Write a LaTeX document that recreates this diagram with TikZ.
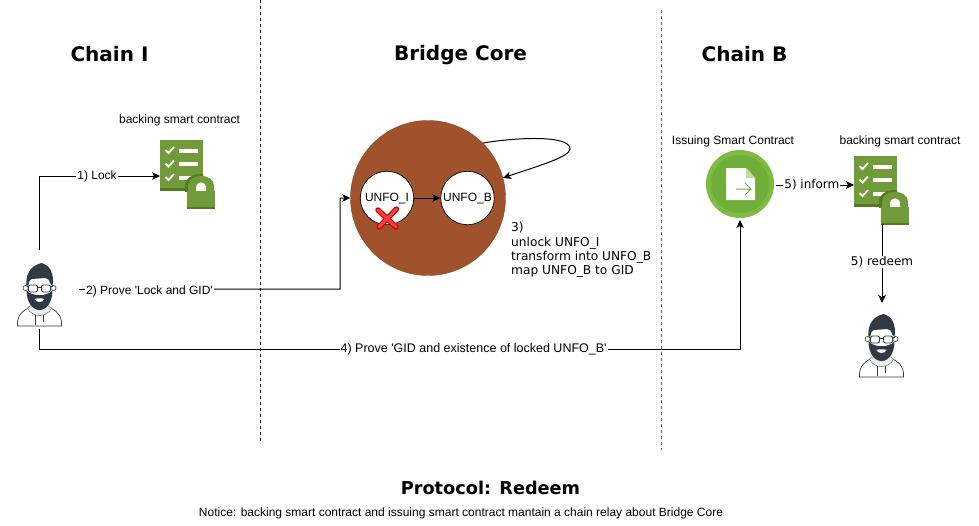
\documentclass[tikz,border=0pt]{standalone}
\usepackage{fontspec}
\setmainfont[Ligatures=TeXOff]{Liberation Sans}
\newfontfamily\dejavu{DejaVu Sans}
\usetikzlibrary{arrows.meta, positioning, calc}
\definecolor{leafgreen}{RGB}{112, 155, 56}
\definecolor{leafdark}{RGB}{82, 122, 36}
\definecolor{issuegreen}{RGB}{127, 186, 66}
\definecolor{issueinner}{RGB}{112, 174, 58}
\definecolor{corebrown}{RGB}{160, 82, 45}
\definecolor{inkgrey}{RGB}{47, 58, 68}
\tikzset{
  pics/contract/.style={code={
    \fill[leafgreen] (0,0) rectangle (43,51);
    \fill[leafdark] (0,47.5) rectangle (43,51);
    \foreach \yy in {0,13.5,27}{
      \draw[white, line width=1.8pt] (5.5,10+\yy) -- (8.5,13+\yy) -- (14,7+\yy);
      \fill[white] (19,8.5+\yy) rectangle (38,12.5+\yy);
    }
    \begin{scope}
      \clip (0,0) rectangle (43,51);
      \fill[leafdark] (25,52) -- (25,46) .. controls (25,30) and (57,30) .. (57,46) -- (57,52) -- cycle;
    \end{scope}
    \fill[leafgreen] (28,52) -- (28,46) .. controls (28,32.5) and (54,32.5) .. (54,46) -- (54,52) -- cycle;
    \fill[white] (36,51) -- (36,48) .. controls (36,40.5) and (46,40.5) .. (46,48) -- (46,51) -- cycle;
    \fill[leafgreen] (27,51) rectangle (55,69);
    \fill[leafdark] (27,66.5) rectangle (55,69);
  }},
  pics/person/.style={code={
    \draw[inkgrey, fill=white, line width=0.7pt] (-22,31) .. controls (-23,20) and (-16,15) .. (-9,12) -- (9,12) .. controls (16,15) and (23,20) .. (22,31) -- cycle;
    \draw[inkgrey!70, fill=black!8, line width=0.5pt] (-12,13) .. controls (-8,23) and (8,23) .. (12,13) .. controls (8,8) and (-8,8) .. (-12,13) -- cycle;
    \draw[inkgrey, line width=0.5pt] (-4,20) -- (-4,30) (4,20) -- (4,27);
    \draw[inkgrey, fill=white, line width=0.6pt] (-14,-7) circle[radius=2.5] (14,-7) circle[radius=2.5];
    \fill[white] (0,-6) ellipse[x radius=12, y radius=15];
    \fill[inkgrey] (-13,-9) .. controls (-14,-20) and (-10,-29) .. (2,-32) .. controls (10,-30) and (15,-22) .. (13,-9) -- (11,-11) .. controls (10,-15) and (8,-17) .. (6,-17) -- (-8,-16) .. controls (-10,-15) and (-11,-13) .. (-11,-10) -- cycle;
    \fill[inkgrey] (-13,-5) .. controls (-13,6) and (-8,15) .. (0,15) .. controls (8,15) and (13,6) .. (13,-5) -- (10,-2) .. controls (6,-1) and (3,1) .. (0,0) .. controls (-3,1) and (-6,-1) .. (-10,-2) -- cycle;
    \fill[white] (-5,4) .. controls (-2,3) and (2,3) .. (5,4) .. controls (3,8) and (-3,8) .. (-5,4) -- cycle;
    \draw[inkgrey, line width=0.9pt, rounded corners=2pt] (-11,-10) rectangle (-2,-3) (2,-10) rectangle (11,-3);
    \draw[inkgrey, line width=0.9pt] (-2,-8) -- (2,-8) (-13,-9) -- (-11,-9) (11,-9) -- (13,-9);
  }},
  pics/crossmark/.style={code={
    \draw[red!80!black, line width=5.4pt, line cap=round] (-9,-8) -- (9,9) (9.5,-9) -- (-8,9);
    \draw[red!75!white, line width=3pt, line cap=round] (-9,-8) -- (9,9) (9.5,-9) -- (-8,9);
  }}
}
\begin{document}
\begin{tikzpicture}[x=1pt, y=-1pt]
\tikzstyle{iconbox} = [inner sep=0pt, outer sep=0pt]
\tikzstyle{title} = [inner sep=0pt, font=\dejavu\bfseries\fontsize{20}{24}\selectfont]
\tikzstyle{caption} = [inner sep=0pt, font=\fontsize{12}{14}\selectfont]
\tikzstyle{elabel} = [fill=white, inner sep=1pt, font=\fontsize{12}{14}\selectfont]
\tikzstyle{wlabel} = [fill=white, inner sep=1pt, font=\dejavu\fontsize{12}{14}\selectfont]
\tikzstyle{link} = [draw, black, line width=1pt, -{Stealth[length=8pt, width=7.5pt, inset=2pt]}]
\tikzstyle{token} = [circle, draw=black, fill=white, line width=0.7pt, inner sep=0pt, minimum size=53.5pt, font=\fontsize{12}{14}\selectfont]
\useasboundingbox (0,0) rectangle (979,525);

\draw[line width=1pt, dash pattern=on 3pt off 3pt] (260,0) -- (260,441);
\draw[black!60, line width=1pt, dash pattern=on 3pt off 3pt] (661,10) -- (661,450);

\node[title] (titleI) at (109.5,54) {Chain I};
\node[title] (titleCore) at (460.5,55) {Bridge Core};
\node[title] (titleB) at (744.5,54) {Chain B};
\node[title, font=\dejavu\bfseries\fontsize{17.7}{21}\selectfont] (titleProto) at (490.5,488) {Protocol: Redeem};
\node[caption] (notice) at (461,513) {Notice: backing smart contract and issuing smart contract mantain a chain relay about Bridge Core};

% chain I
\node[caption] (backingI) at (179.5,120) {backing smart contract};
\node[iconbox, minimum width=55pt, minimum height=72pt] (contractI) at (187.5,176) {};
\pic at (160,140) {contract};
\node[iconbox, minimum width=80pt, minimum height=79pt] (userI) at (39,289.5) {};
\pic at (39.5,295) {person};

% bridge core
\node[circle, draw=corebrown!85!black, fill=corebrown, inner sep=0pt, minimum size=155pt] (core) at (428,198) {};
\node[token] (unfoI) at (387,198) {UNFO\_I};
\node[token] (unfoB) at (467.5,198) {UNFO\_B};
\pic at (387,218) {crossmark};
\node[inner sep=0pt, anchor=north west, align=left, font=\dejavu\fontsize{12.2}{14.3}\selectfont] (stepC) at (511,222.5) {3)\\unlock UNFO\_I\\transform into UNFO\_B\\map UNFO\_B to GID};

% chain B
\node[circle, fill=issuegreen, inner sep=0pt, minimum size=68pt, outer sep=2pt] (issue) at (740,184) {};
\fill[issueinner] (issue.center) circle[radius=29];
\fill[white] (726,168) -- (746,168) -- (755,178) -- (755,200) -- (726,200) -- cycle;
\fill[issueinner!45!white] (746,168) -- (755,178) -- (746,178) -- cycle;
\draw[issueinner, line width=1pt] (736,189) -- (751,189) (745,183) -- (751,189) -- (745,195);
\node[caption] (issueText) at (733,141) {Issuing Smart Contract};
\node[caption] (backingB) at (900,141) {backing smart contract};
\node[iconbox, minimum width=55pt, minimum height=58pt] (contractB) at (881.5,185) {};
\pic at (854,156) {contract};
\node[iconbox, minimum width=27pt, minimum height=34pt] (lockB) at (895.5,207) {};
\node[iconbox, minimum width=46pt, minimum height=74pt] (userB) at (881.5,340) {};
\pic at (881.5,346) {person};

% connectors
\coordinate (turnP) at (340,289);
\coordinate (turnG) at (39,349);
\draw[link] (userI.north) |- node[elabel, pos=0.74] (lockText) {1) Lock} (contractI.west);
\draw[link] (userI.east) -- node[elabel, pos=0.27, yshift=-2pt] (proveText) {2) Prove 'Lock and GID'} (turnP) |- (core.west);
\draw[link] (unfoI) -- (unfoB);
\draw[link] (core.45) .. controls (512,138) and (570,134) .. (570,149) .. controls (570,157) and (535,167) .. (core.15);
\draw[link] (userI.south) -- (turnG) -- node[elabel, pos=0.62, font=\fontsize{12.5}{14}\selectfont] (gidText) {4) Prove 'GID and existence of locked UNFO\_B'} (turnG -| issue.south) -- (issue.south);
\draw[link] (issue.east |- contractB.west) -- node[wlabel, pos=0.46] (informText) {5) inform} (contractB.west);
\draw[link] (lockB.south west) -- node[wlabel, pos=0.48] (redeemText) {5) redeem} (lockB.south west |- userB.north);
\end{tikzpicture}
\end{document}
